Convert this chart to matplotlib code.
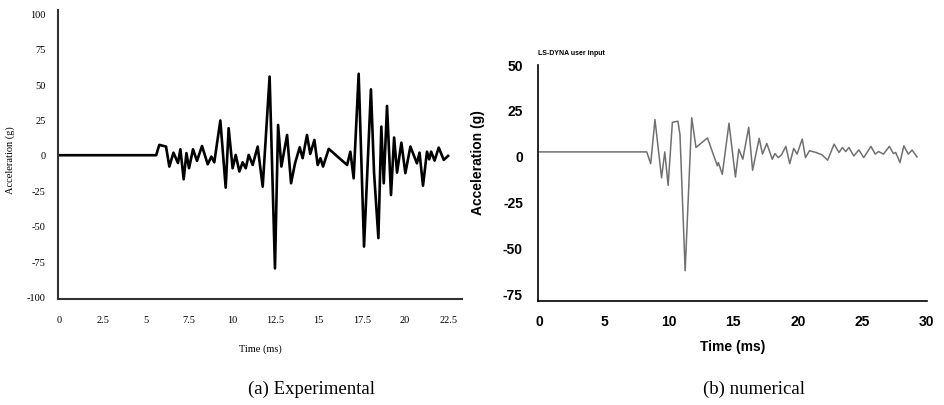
import matplotlib
matplotlib.use("Agg")
import matplotlib.pyplot as plt

plt.rcParams["axes.unicode_minus"] = False

# experimental trace (a)
exp_time = [0, 5.6, 5.78, 6.17, 6.36, 6.6, 6.86, 7.0, 7.19, 7.35, 7.5, 7.73, 7.96, 8.25,
            8.58, 8.79, 8.96, 9.31, 9.62, 9.79, 10.02, 10.2, 10.41, 10.6, 10.78, 10.95,
            11.18, 11.47, 11.76, 12.16, 12.47, 12.65, 12.84, 13.17, 13.4, 13.63, 13.9,
            14.07, 14.32, 14.51, 14.75, 14.94, 15.1, 15.25, 15.58, 16.64, 16.83, 17.02,
            17.31, 17.62, 18.02, 18.2, 18.45, 18.62, 18.76, 18.95, 19.18, 19.36, 19.53,
            19.78, 20.01, 20.3, 20.68, 20.83, 21.03, 21.26, 21.39, 21.5, 21.7, 21.94,
            22.23, 22.48]
exp_acc = [0.5, 0.5, 7.8, 6.6, -7.5, 2.3, -5, 4.7, -16.5, 2, -8.7, 4.7, -3.5, 7,
           -5.9, -0.5, -4.5, 25, -22.4, 19.6, -8.7, 0.7, -11, -4.5, -8.7, 0.7,
           -6.4, 6.6, -21.7, 56, -79.4, 21.9, -7.5, 14.8, -19.3, -5.2, 6.1,
           -1.6, 14.8, 1.4, 11.3, -6.4, -1.6, -7.5, 5, -6.4, 3, -15.8,
           58, -64, 47, -12, -58, 20.7, -19.3, 35.3, -27.6, 13, -11.8,
           9.4, -12.2, 6.6, -5.2, 2.3, -21, 3, -2.4, 3, -3.3, 5.9,
           -2.8, 0]

# numerical trace (b)
num_time = [0, 8.29, 8.6, 8.93, 9.44, 9.69, 9.95, 10.28, 10.71, 10.87, 11.27, 11.78, 12.11,
            13.0, 13.77, 13.85, 14.15, 14.67, 15.17, 15.43, 15.74, 16.2, 16.5, 17.01,
            17.27, 17.6, 18.03, 18.23, 18.49, 18.74, 19.08, 19.38, 19.69, 19.95, 20.35,
            20.6, 20.91, 21.42, 21.88, 22.32, 22.82, 23.2, 23.47, 23.72, 23.97, 24.35,
            24.74, 25.12, 25.68, 26.01, 26.27, 26.65, 27.11, 27.42, 27.6, 27.93, 28.23,
            28.57, 28.87, 29.25]
num_acc = [2.7, 2.7, -3.7, 20.3, -11.4, 2.7, -15.5, 18.8, 19.4, 12, -62, 21.3, 5.1,
           10.3, -4.9, -3.1, -9.5, 18.3, -11, 4.2, -1.3, 16.1, -7.3, 10.1,
           1.5, 7.3, -1.3, 1.8, -0.4, 1.1, 5.7, -3.7, 4.6, 1.5, 9.7,
           -0.4, 3.3, 2.4, 1.1, -1.8, 6.9, 2.4, 5.1, 2.9, 5.1, 0.5,
           3.8, -0.4, 5.7, 1.5, 2.9, 1.5, 5.7, 1.8, 2.4, -3.1, 6,
           1.5, 3.7, 0]

exp_xticks = [0, 2.5, 5, 7.5, 10, 12.5, 15, 17.5, 20, 22.5]
exp_yticks = [-100, -75, -50, -25, 0, 25, 50, 75, 100]
num_xticks = [0, 5, 10, 15, 20, 25, 30]
num_yticks = [-75, -50, -25, 0, 25, 50]

fig = plt.figure(figsize=(9.45, 4.05), dpi=100)

# ---- (a) experimental ----
ax1 = fig.add_axes([0.0617, 0.2617, 0.4269, 0.7136])
ax1.plot(exp_time, exp_acc, color="black", lw=1.9, solid_joinstyle="round")
ax1.set_xlim(-0.06, 23.27)
ax1.set_ylim(-101, 103)
ax1.set_xticks(exp_xticks)
ax1.set_xticklabels(["0", "2.5", "5", "7.5", "10", "12.5", "15", "17.5", "20", "22.5"])
ax1.set_yticks(exp_yticks)
for s in ["top", "right"]:
    ax1.spines[s].set_visible(False)
for s in ["left", "bottom"]:
    ax1.spines[s].set_color("#333333")
    ax1.spines[s].set_linewidth(1.5)
ax1.tick_params(length=0, labelsize=7.5)
ax1.tick_params(axis="y", pad=9)
ax1.tick_params(axis="x", pad=12)
for lab in ax1.get_xticklabels() + ax1.get_yticklabels():
    lab.set_family("Liberation Serif")
ax1.set_xlabel("Time (ms)", family="Liberation Serif", fontsize=7.5, labelpad=14)
ax1.set_ylabel("Acceleration (g)", family="Liberation Serif", fontsize=7.5)
ax1.yaxis.set_label_coords(-0.107, 0.48)

# ---- (b) numerical ----
ax2 = fig.add_axes([0.5696, 0.2575, 0.411, 0.582])
ax2.plot(num_time, num_acc, color="#707070", lw=1.1, solid_joinstyle="round")
ax2.set_xlim(-0.12, 29.6)
ax2.set_ylim(-78.3, 50)
ax2.set_xticks(num_xticks)
ax2.set_yticks(num_yticks)
for s in ["top", "right"]:
    ax2.spines[s].set_visible(False)
for s in ["left", "bottom"]:
    ax2.spines[s].set_color("black")
    ax2.spines[s].set_linewidth(1.2)
ax2.tick_params(length=0, labelsize=10)
ax2.tick_params(axis="y", pad=11)
ax2.tick_params(axis="x", pad=10)
for lab in ax2.get_xticklabels() + ax2.get_yticklabels():
    lab.set_family("Liberation Sans")
    lab.set_fontweight("bold")
ax2.set_xlabel("Time (ms)", family="Liberation Sans", fontweight="bold", fontsize=10, labelpad=8)
ax2.set_ylabel("Acceleration (g)", family="Liberation Sans", fontweight="bold", fontsize=10)
ax2.yaxis.set_label_coords(-0.137, 0.584)
ax2.text(0.0, 1.05, "LS-DYNA user input", transform=ax2.transAxes, family="Liberation Sans",
         fontweight="bold", fontsize=5, ha="left", va="center")

# captions
fig.text(311 / 945, 1 - 389 / 405, "(a) Experimental", family="Liberation Serif",
         fontsize=13.5, ha="center", va="center")
fig.text(754 / 945, 1 - 389 / 405, "(b) numerical", family="Liberation Serif",
         fontsize=13.5, ha="center", va="center")

fig.savefig("out.png", dpi=100)
